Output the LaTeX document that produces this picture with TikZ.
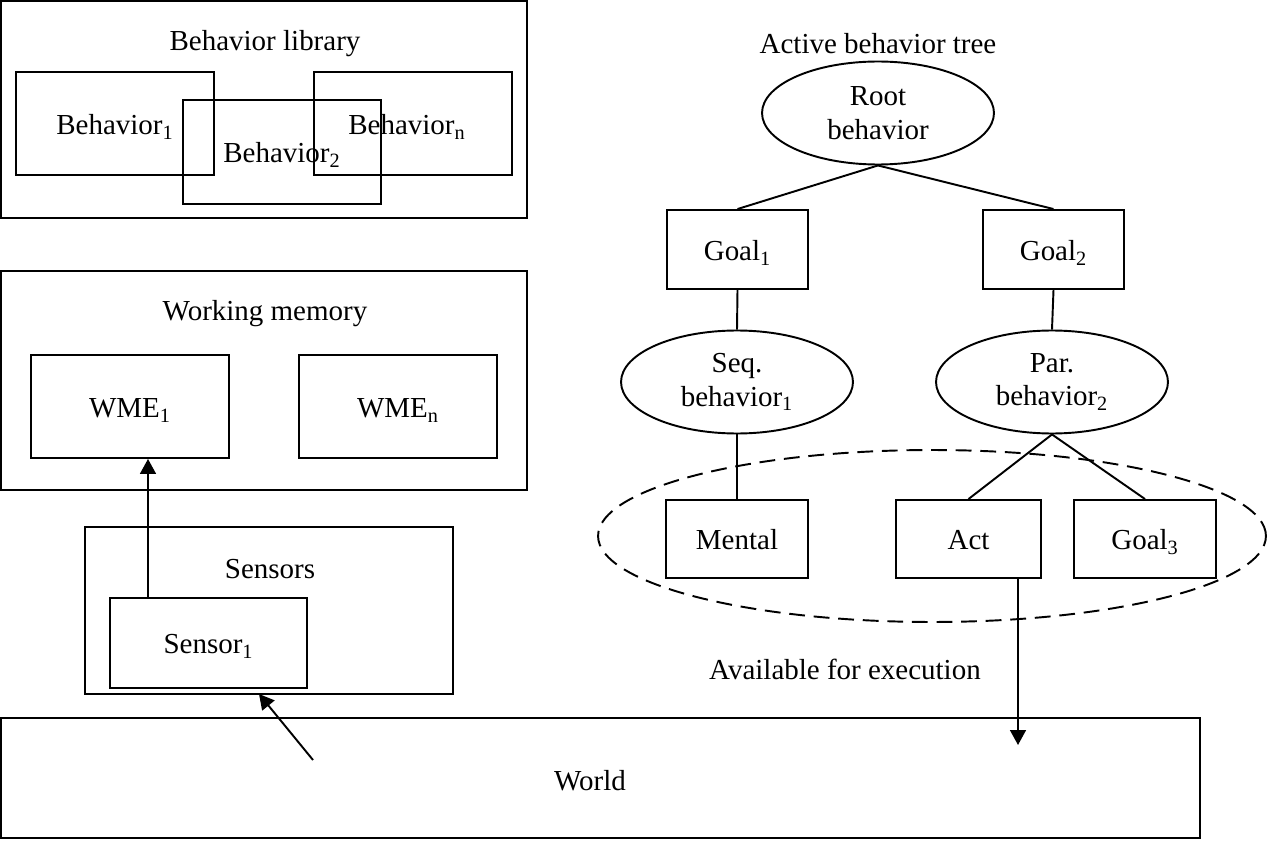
\documentclass[tikz,border=0pt]{standalone}
\usepackage{fontspec}
\setmainfont{Liberation Serif}
\usetikzlibrary{shapes.geometric,arrows.meta,calc}
\begin{document}
\begin{tikzpicture}[x=0.02cm,y=-0.02cm,
  every node/.style={font=\fontsize{16.5}{19}\selectfont},
  box/.style={draw, rectangle, inner sep=0pt, line width=1.1pt, text height=1.25em, text depth=0pt},
  oval/.style={draw, ellipse, inner sep=0pt, line width=1.1pt, align=center, minimum width=4.64cm, minimum height=2.06cm},
  txt/.style={inner sep=0pt},
  conn/.style={line width=1.1pt},
  arr/.style={line width=1.1pt, -{Triangle[length=8.5pt,width=9pt]}}]
\useasboundingbox (0,0) rectangle (1271,841);
% Behavior library
\node[box, minimum width=10.52cm, minimum height=4.34cm] (lib) at (264,109.5) {};
\node[txt] (libt) at (265,44) {Behavior library};
\node[box, minimum width=3.96cm, minimum height=2.06cm] (b1) at (115,123.5) {Behavior\textsubscript{1}};
\node[box, minimum width=3.96cm, minimum height=2.08cm] (b2) at (282,152) {Behavior\textsubscript{2}};
\node[box, minimum width=3.96cm, minimum height=2.06cm] (bn) at (413,123.5) {};
\node[txt] (bnt) at (407,127) {Behavior\textsubscript{n}};
% Working memory
\node[box, minimum width=10.52cm, minimum height=4.38cm] (wm) at (264,380.5) {};
\node[txt] (wmt) at (265,314) {Working memory};
\node[box, minimum width=3.96cm, minimum height=2.06cm] (wme1) at (130,406.5) {WME\textsubscript{1}};
\node[box, minimum width=3.96cm, minimum height=2.06cm] (wmen) at (398,406.5) {WME\textsubscript{n}};
% Sensors
\node[box, minimum width=7.36cm, minimum height=3.34cm] (sens) at (269,610.5) {};
\node[txt] (senst) at (270,569) {Sensors};
\node[box, minimum width=3.94cm, minimum height=1.8cm] (s1) at (208.5,643) {Sensor\textsubscript{1}};
% World
\node[box, minimum width=23.98cm, minimum height=2.4cm] (world) at (600.5,778) {};
\node[txt] (worldt) at (590,781) {World};
% Active behavior tree
\node[txt] (treet) at (878,44) {Active behavior tree};
\node[oval] (root) at (878,113) {Root\\behavior};
\node[box, minimum width=2.82cm, minimum height=1.58cm] (g1) at (737.5,249.5) {Goal\textsubscript{1}};
\node[box, minimum width=2.82cm, minimum height=1.58cm] (g2) at (1053.5,249.5) {Goal\textsubscript{2}};
\node[oval] (seq) at (737,382) {Seq.\\behavior\textsubscript{1}};
\node[oval] (par) at (1052,382) {Par.\\behavior\textsubscript{2}};
\node[box, minimum width=2.84cm, minimum height=1.56cm] (mental) at (737,539) {Mental};
\node[box, minimum width=2.9cm, minimum height=1.56cm] (act) at (968.5,539) {Act};
\node[box, minimum width=2.84cm, minimum height=1.56cm] (g3) at (1145,539) {Goal\textsubscript{3}};
\node[draw, ellipse, dash pattern=on 9pt off 5pt, line width=1.1pt, inner sep=0pt, minimum width=13.36cm, minimum height=3.44cm] (avail) at (932,536) {};
\node[txt] (availt) at (845,669) {Available for execution};
% connectors
\draw[conn] (root.south) -- (g1.north);
\draw[conn] (root.south) -- (g2.north);
\draw[conn] (g1.south) -- (seq.north);
\draw[conn] (g2.south) -- (par.north);
\draw[conn] (seq.south) -- (mental.north);
\draw[conn] (par.south) -- (act.north);
\draw[conn] (par.south) -- (g3.north);
\coordinate (acttip) at (1018,745);
\draw[arr] (act.south -| acttip) -- (acttip);
\coordinate (sx) at (148,0);
\draw[arr] (s1.north -| sx) -- (wme1.south -| sx);
\coordinate (wtail) at (313,760);
\coordinate (stip) at (259,694);
\draw[arr] (wtail) -- (stip);
\end{tikzpicture}
\end{document}
